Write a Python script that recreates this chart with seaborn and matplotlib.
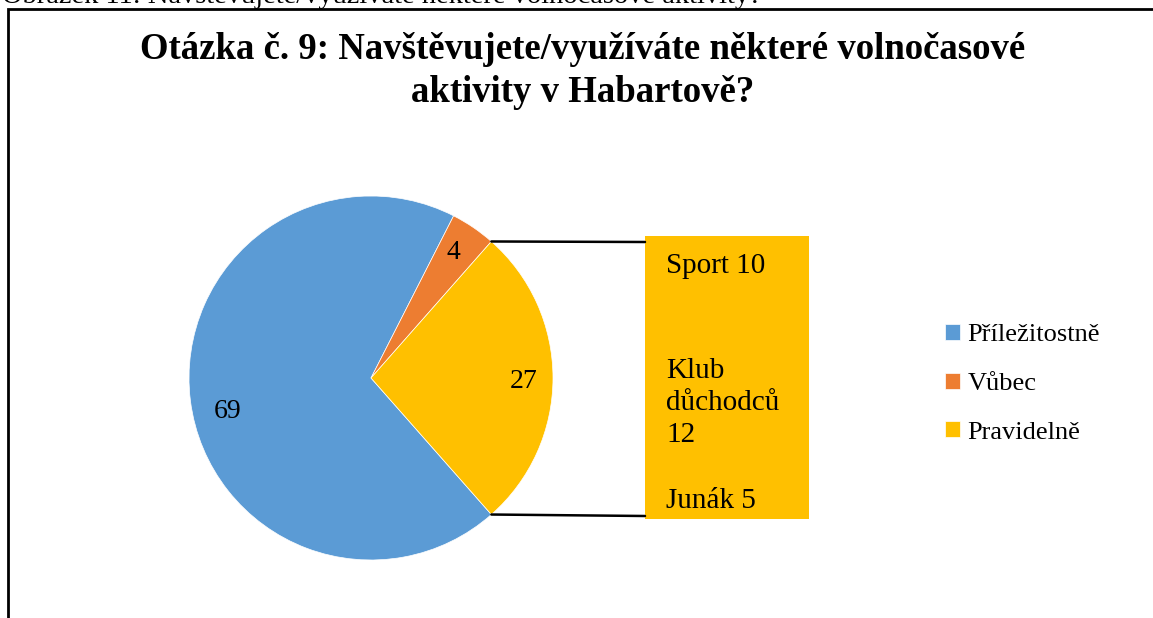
import numpy as np
import seaborn as sns
import matplotlib.pyplot as plt
from matplotlib.patches import Rectangle, ConnectionPatch

# data
labels = ["Příležitostně", "Vůbec", "Pravidelně"]
values = [69, 4, 27]
colors = ["#5B9BD5", "#ED7D31", "#FFC000"]

sub_labels = ["Sport", "Klub\ndůchodců", "Junák"]
sub_values = [10, 12, 5]

title = "Otázka č. 9: Navštěvujete/využíváte některé volnočasové\naktivity v Habartově?"
caption = "Obrázek 11: Navštěvujete/využíváte některé volnočasové aktivity?"

sns.set_theme(style="white")
plt.rcParams['font.family'] = ['Liberation Serif', 'DejaVu Serif']
plt.rcParams['text.color'] = 'black'

W, H = 1153, 618
fig = plt.figure(figsize=(W / 100, H / 100), dpi=100)
fig.patch.set_facecolor("white")

def fx(px):
    return px / W

def fy(py):
    return 1 - py / H

# cut caption and frame of the chart area
fig.text(fx(2), fy(3), caption, ha='left', va='baseline', fontsize=20.5, color='black')
fig.add_artist(Rectangle((fx(8), fy(700)), fx(1300), (700 - 9) / H,
                         transform=fig.transFigure, fill=False,
                         edgecolor='black', linewidth=2, clip_on=False))

fig.text(fx(583), fy(102), title, ha='center', va='baseline', fontsize=26.5,
         fontweight='bold', linespacing=1.28, color='black')

# main pie
r_px = 182
ax = fig.add_axes([fx(371 - r_px), fy(378 + r_px), 2 * r_px / W, 2 * r_px / H])
start = 360 - values[2] / sum(values) * 180
wedges, texts, autotexts = ax.pie(values, colors=colors, startangle=start,
                                  counterclock=False, radius=1,
                                  autopct=lambda p: f"{p * sum(values) / 100:.0f}",
                                  pctdistance=0.81,
                                  wedgeprops=dict(linewidth=0.5, edgecolor='white'),
                                  textprops=dict(fontsize=20, color='black'))
ax.set_xlim(-1, 1)
ax.set_ylim(-1, 1)
ax.set_aspect('auto')
ax.axis('off')

# nudge the labels a bit, like the original
wb = wedges[0]
ang = np.deg2rad((wb.theta1 + wb.theta2) / 2 + 6)
autotexts[0].set_position((0.81 * np.cos(ang), 0.81 * np.sin(ang)))
autotexts[2].set_position((0.84, -0.02))
autotexts[1].set_position((autotexts[1].get_position()[0], autotexts[1].get_position()[1] + 0.02))

# breakdown box for "Pravidelně"
bx0, bx1, by0, by1 = 645, 809, 236, 519
fig.add_artist(Rectangle((fx(bx0), fy(by1)), fx(bx1) - fx(bx0), fy(by0) - fy(by1),
                         transform=fig.transFigure, facecolor=colors[2],
                         edgecolor='none'))
sub_y = [273, 442, 508]
for lab, val, yy in zip(sub_labels, sub_values, sub_y):
    txt = f"{lab}\n{val}" if "\n" in lab else f"{lab} {val}"
    fig.text(fx(666), fy(yy), txt, ha='left', va='baseline',
             fontsize=21, linespacing=1.3, color='black')

# connector lines from the yellow wedge edges to the box
w = wedges[2]
for ang, yy in [(w.theta2, by0 + 6), (w.theta1, by1 - 3)]:
    p = (np.cos(np.deg2rad(ang)), np.sin(np.deg2rad(ang)))
    con = ConnectionPatch(xyA=p, coordsA=ax.transData,
                          xyB=(fx(bx0), fy(yy)), coordsB=fig.transFigure,
                          color='black', linewidth=1.8)
    fig.add_artist(con)

leg = fig.legend(wedges, labels, loc='upper left', bbox_to_anchor=(fx(945), fy(324)),
                 frameon=False, fontsize=19, handlelength=0.55, handleheight=0.55,
                 handletextpad=0.3, labelspacing=1.0, borderpad=0, borderaxespad=0,
                 labelcolor='black')

fig.savefig("out.png", dpi=100)
